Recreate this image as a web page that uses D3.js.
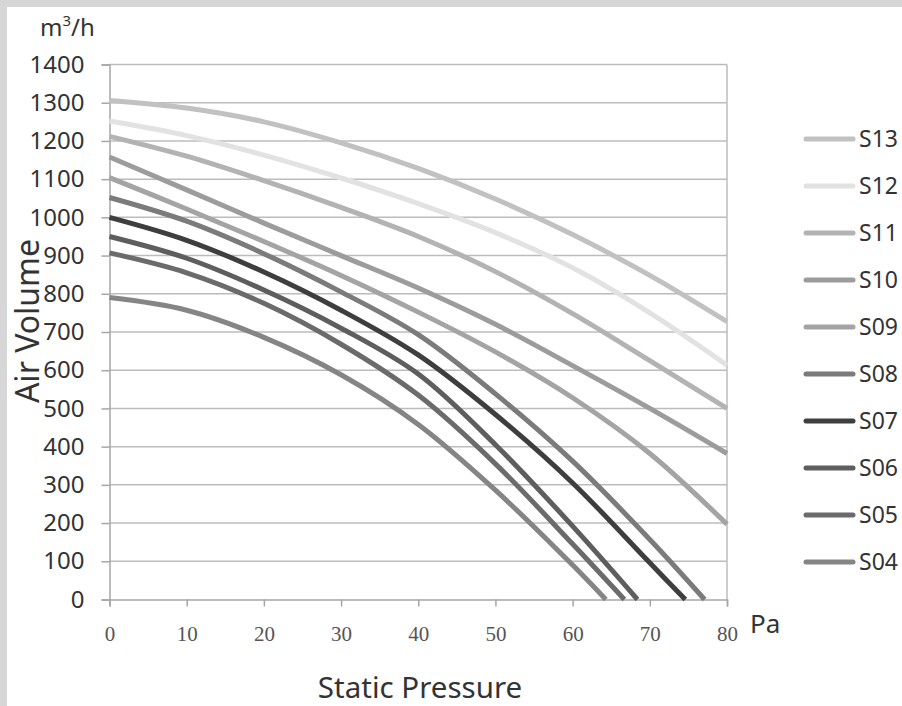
<!DOCTYPE html>
<html><head><meta charset="utf-8">
<script src="https://cdn.jsdelivr.net/npm/d3@7"></script>
<style>html,body{margin:0;padding:0;background:#fff;}svg{display:block;}</style>
</head><body>
<script>
// ---- data ----
const pressureTicks = [0,10,20,30,40,50,60,70,80];
const volumeTicks = [0,100,200,300,400,500,600,700,800,900,1000,1100,1200,1300,1400];
const seriesNames = ["S13","S12","S11","S10","S09","S08","S07","S06","S05","S04"];
const seriesColors = ["#c1c1c1","#e2e2e2","#b3b3b3","#9c9c9c","#a4a4a4","#7b7b7b","#3e3e3e","#5e5e5e","#6b6b6b","#858585"];
const S13 = [[0,1306],[10,1286],[20,1250],[30,1195],[40,1128],[50,1048],[60,955],[70,848],[80,727]];
const S12 = [[0,1252],[10,1214],[20,1163],[30,1103],[40,1036],[50,960],[60,868],[70,750],[80,613]];
const S11 = [[0,1212],[10,1160],[20,1096],[30,1026],[40,950],[50,858],[60,748],[70,625],[80,500]];
const S10 = [[0,1158],[10,1072],[20,985],[30,900],[40,815],[50,720],[60,612],[70,500],[80,382]];
const S09 = [[0,1104],[10,1022],[20,937],[30,848],[40,752],[50,648],[60,528],[70,382],[80,197]];
const S08 = [[0,1052],[10,990],[20,905],[30,805],[40,693],[50,538],[60,362],[70,157],[77.1,0]];
const S07 = [[0,1000],[10,940],[20,857],[30,757],[40,640],[50,484],[60,305],[70,96],[74.6,0]];
const S06 = [[0,950],[10,893],[20,810],[30,710],[40,590],[50,405],[60,192],[68.4,0]];
const S05 = [[0,907],[10,855],[20,775],[30,668],[40,535],[50,355],[60,145],[66.7,0]];
const S04 = [[0,790],[10,757],[20,686],[30,588],[40,458],[50,286],[60,90],[64.3,0]];
const seriesData = [S13,S12,S11,S10,S09,S08,S07,S06,S05,S04];

// ---- layout ----
const W = 902, H = 706;
const L = 109.5, R = 727, T = 64.5, B = 599.5;
const svg = d3.select("body").append("svg").attr("width", W).attr("height", H);
svg.append("rect").attr("width", W).attr("height", H).attr("fill", "#d6d6d6");
svg.append("rect").attr("x", 7).attr("y", 7).attr("width", W - 7).attr("height", H - 7).attr("fill", "#fff");

const x = d3.scaleLinear().domain([0, 80]).range([L, R]);
const y = d3.scaleLinear().domain([0, 1400]).range([B, T]);

const sans = "'Noto Sans', 'Open Sans', sans-serif";

// gridlines
svg.append("g").selectAll("line").data(volumeTicks.filter(v => v > 0)).join("line")
  .attr("x1", L).attr("x2", R).attr("y1", d => y(d)).attr("y2", d => y(d))
  .attr("stroke", "#bcbcbc").attr("stroke-width", 1.5);
// right border
svg.append("line").attr("x1", R).attr("x2", R).attr("y1", T).attr("y2", B)
  .attr("stroke", "#bcbcbc").attr("stroke-width", 1.5);

// y axis
const yAxis = d3.axisLeft(y).tickValues(volumeTicks).tickSize(8).tickPadding(17).tickFormat(d3.format("d"));
const gy = svg.append("g").attr("transform", `translate(${L},0)`).call(yAxis);
gy.select(".domain").attr("stroke", "#a6a6a6").attr("stroke-width", 1.5);
gy.selectAll(".tick line").attr("stroke", "#a6a6a6").attr("stroke-width", 1.5);
gy.selectAll(".tick text").attr("font-family", sans).attr("font-size", 24).attr("fill", "#333");

// x axis
const xAxis = d3.axisBottom(x).tickValues(pressureTicks).tickSize(7).tickPadding(20);
const gx = svg.append("g").attr("transform", `translate(0,${B})`).call(xAxis);
gx.select(".domain").attr("stroke", "#a6a6a6").attr("stroke-width", 1.5);
gx.selectAll(".tick line").attr("stroke", "#a6a6a6").attr("stroke-width", 1.5);
gx.selectAll(".tick text").attr("font-family", "'Liberation Serif', serif").attr("font-size", 21).attr("fill", "#555");

// curves
const line = d3.line().x(d => x(d[0])).y(d => y(d[1])).curve(d3.curveCatmullRom.alpha(0.5));
const order = d3.range(seriesData.length).reverse();
svg.append("g").selectAll("path").data(order).join("path")
  .attr("d", i => line(seriesData[i]))
  .attr("fill", "none")
  .attr("stroke", i => seriesColors[i])
  .attr("stroke-width", 5);

// legend
const lg = svg.append("g");
seriesNames.forEach((name, i) => {
  const cy = 139 + i * 47;
  lg.append("line").attr("x1", 806).attr("x2", 853).attr("y1", cy).attr("y2", cy)
    .attr("stroke", seriesColors[i]).attr("stroke-width", 5).attr("stroke-linecap", "round");
  lg.append("text").attr("x", 859).attr("y", cy).attr("dy", "0.35em")
    .attr("font-family", sans).attr("font-size", 23).attr("fill", "#333").text(name);
});

// titles
const unit = svg.append("text").attr("x", 40).attr("y", 36).attr("font-family", sans).attr("font-size", 24).attr("fill", "#333");
unit.append("tspan").text("m");
unit.append("tspan").attr("font-size", 15).attr("dy", -10).text("3");
unit.append("tspan").attr("dy", 10).text("/h");

svg.append("text").attr("x", 750).attr("y", 633).attr("font-family", sans).attr("font-size", 26).attr("fill", "#333").text("Pa");

svg.append("text").attr("x", 420).attr("y", 698).attr("text-anchor", "middle")
  .attr("font-family", sans).attr("font-size", 29.5).attr("fill", "#333").text("Static Pressure");

svg.append("text").attr("transform", "translate(39,321) rotate(-90)").attr("text-anchor", "middle")
  .attr("font-family", sans).attr("font-size", 32).attr("fill", "#333").text("Air Volume");
</script>
</body></html>
